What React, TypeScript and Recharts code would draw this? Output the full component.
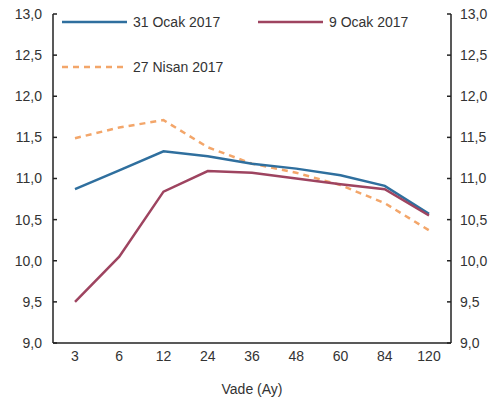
import { LineChart, Line, XAxis, YAxis } from "recharts";

// vade (ay) kategorileri
const vadeler = ["3", "6", "12", "24", "36", "48", "60", "84", "120"];

// getiri eğrileri (%)
const ocak31 = [10.87, 11.1, 11.33, 11.27, 11.18, 11.12, 11.04, 10.91, 10.57];
const ocak9 = [9.5, 10.05, 10.84, 11.09, 11.07, 11.0, 10.93, 10.87, 10.55];
const nisan27 = [11.49, 11.62, 11.71, 11.38, 11.18, 11.07, 10.92, 10.7, 10.37];

const yTicks = [9, 9.5, 10, 10.5, 11, 11.5, 12, 12.5, 13];

const data = vadeler.map((v, i) => ({
  vade: v,
  ocak31: ocak31[i],
  ocak9: ocak9[i],
  nisan27: nisan27[i],
}));

const BLUE = "#2f6f9e";
const MAROON = "#9e4460";
const ORANGE = "#f3a66a";
const TEXT = "#333";
const FONT = "Liberation Sans, Arial, sans-serif";

const fmt = (v: number) => v.toFixed(1).replace(".", ",");

function LegendBox() {
  const item = (x: number, y: number, color: string, label: string, dashed?: boolean) => (
    <g>
      <line
        x1={x}
        x2={x + 65}
        y1={y}
        y2={y}
        stroke={color}
        strokeWidth={2.5}
        strokeDasharray={dashed ? "6 5" : undefined}
      />
      <text x={x + 71} y={y + 5} fontSize={14} fill={TEXT} fontFamily={FONT}>
        {label}
      </text>
    </g>
  );
  return (
    <svg
      width={400}
      height={80}
      style={{ position: "absolute", left: 60, top: 10, pointerEvents: "none" }}
    >
      {item(2, 12, BLUE, "31 Ocak 2017")}
      {item(198, 12, MAROON, "9 Ocak 2017")}
      {item(2, 57, ORANGE, "27 Nisan 2017", true)}
    </svg>
  );
}

export default function App() {
  const tickStyle = { fontSize: 14, fill: TEXT, fontFamily: FONT };
  return (
    <div style={{ position: "fixed", left: 0, top: 0, width: 496, height: 404, background: "#fff" }}>
      <LineChart
        width={496}
        height={404}
        data={data}
        margin={{ top: 14, right: 0, left: 0, bottom: 0 }}
      >
        <XAxis
          dataKey="vade"
          height={61}
          tickLine={false}
          tick={tickStyle}
          padding={{ left: 22, right: 22 }}
          stroke="#222"
          strokeWidth={1.5}
          label={{
            value: "Vade (Ay)",
            position: "insideBottom",
            offset: 10,
            fontSize: 14,
            fill: TEXT,
            fontFamily: FONT,
          }}
        />
        <YAxis
          yAxisId="left"
          domain={[9, 13]}
          ticks={yTicks}
          width={53}
          tickSize={-4}
          tickMargin={15}
          tickFormatter={fmt}
          tick={tickStyle}
          stroke="#222"
          strokeWidth={1.5}
          interval={0}
        />
        <YAxis
          yAxisId="right"
          orientation="right"
          domain={[9, 13]}
          ticks={yTicks}
          width={45}
          tickSize={-4}
          tickMargin={13}
          tickFormatter={fmt}
          tick={tickStyle}
          stroke="#222"
          strokeWidth={1.5}
          interval={0}
        />
        <Line
          yAxisId="left"
          dataKey="nisan27"
          stroke={ORANGE}
          strokeWidth={2.5}
          strokeDasharray="6 5"
          dot={false}
          isAnimationActive={false}
        />
        <Line
          yAxisId="left"
          dataKey="ocak31"
          stroke={BLUE}
          strokeWidth={2.5}
          dot={false}
          isAnimationActive={false}
        />
        <Line
          yAxisId="right"
          dataKey="ocak9"
          stroke={MAROON}
          strokeWidth={2.5}
          dot={false}
          isAnimationActive={false}
        />
      </LineChart>
      <LegendBox />
    </div>
  );
}
